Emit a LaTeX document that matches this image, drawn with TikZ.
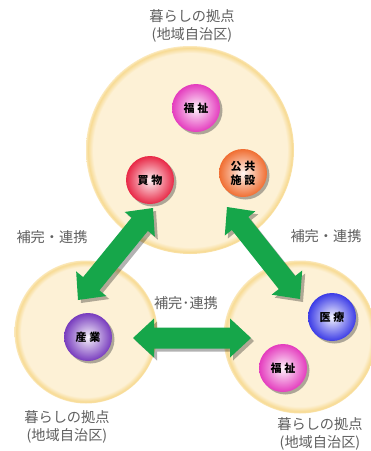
\documentclass[tikz,border=0pt]{standalone}
\usepackage{fontspec}
\newfontfamily\cjk{Noto Sans CJK JP}
\usetikzlibrary{calc,shadows}
\definecolor{cream}{RGB}{253,241,214}
\definecolor{rim}{RGB}{247,218,146}
\definecolor{rimout}{RGB}{251,232,186}
\definecolor{arrgreen}{RGB}{22,166,74}
\definecolor{lblgray}{RGB}{95,95,95}
\definecolor{cpink}{RGB}{228,60,190}
\definecolor{cred}{RGB}{232,40,70}
\definecolor{corange}{RGB}{240,110,50}
\definecolor{cpurple}{RGB}{120,60,190}
\definecolor{cblue}{RGB}{60,60,230}
\pgfdeclareradialshading{discL}{\pgfpoint{0bp}{0bp}}{color(0bp)=(cream); color(23.3bp)=(cream); color(24.6bp)=(rim); color(25bp)=(rimout); color(50bp)=(rimout)}
\pgfdeclareradialshading{discS}{\pgfpoint{0bp}{0bp}}{color(0bp)=(cream); color(22.7bp)=(cream); color(24.4bp)=(rim); color(25bp)=(rimout); color(50bp)=(rimout)}
\tikzset{
  bigdisc/.style={circle, inner sep=0pt, shading=discL, minimum size=#1},
  smalldisc/.style={circle, inner sep=0pt, shading=discS, minimum size=#1},
  ball/.style={circle, minimum size=48pt, inner sep=0pt, inner color=#1!6, outer color=#1,
    drop shadow={shadow xshift=2.5pt, shadow yshift=-2.5pt, opacity=.45, fill=black!70},
    font=\cjk\bfseries\fontsize{11}{14}\selectfont, align=center, text=black},
  lbl/.style={font=\cjk\fontsize{14.2}{18}\selectfont, text=lblgray, align=center},
  blockarrow/.style={fill=arrgreen,
    drop shadow={shadow xshift=3pt, shadow yshift=-3pt, opacity=.3, fill=black},
    to path={
      -- ($(\tikztostart)!21pt!(\tikztotarget)!19.5pt!90:(\tikztotarget)$)
      -- ($(\tikztostart)!21pt!(\tikztotarget)!10.5pt!90:(\tikztotarget)$)
      -- ($(\tikztotarget)!21pt!(\tikztostart)!10.5pt!-90:(\tikztostart)$)
      -- ($(\tikztotarget)!21pt!(\tikztostart)!19.5pt!-90:(\tikztostart)$)
      -- (\tikztotarget)
      -- ($(\tikztotarget)!21pt!(\tikztostart)!19.5pt!90:(\tikztostart)$)
      -- ($(\tikztotarget)!21pt!(\tikztostart)!10.5pt!90:(\tikztostart)$)
      -- ($(\tikztostart)!21pt!(\tikztotarget)!10.5pt!-90:(\tikztotarget)$)
      -- ($(\tikztostart)!21pt!(\tikztotarget)!19.5pt!-90:(\tikztotarget)$)
      -- cycle}}
}
\begin{document}
\begin{tikzpicture}[x=1pt,y=-1pt]
\useasboundingbox[fill=white] (0,0) rectangle (371,451);
% big discs
\node[bigdisc=208pt] (top) at (190,150) {};
\node[smalldisc=143pt] (left) at (86,332) {};
\node[smalldisc=153pt] (right) at (300,337) {};
% labels
\node[lbl] (toplbl) at (192,26) {暮らしの拠点\\(地域自治区)};
\node[lbl] (leftlbl) at (67,427) {暮らしの拠点\\(地域自治区)};
\node[lbl] (rightlbl) at (320,434) {暮らしの拠点\\(地域自治区)};
\node[lbl] (c1) at (52,237) {補完・連携};
\node[lbl] (c2) at (326,236) {補完・連携};
\node[lbl] (c3) at (186,303) {補完･連携};
% arrow end points
\coordinate (l1) at (78,300);
\coordinate (l2) at (153,208);
\coordinate (r1) at (227,207);
\coordinate (r2) at (300,299);
\coordinate (h1) at (133,338);
\coordinate (h2) at (251,338);
\path[blockarrow] (l1) to (l2);
\path[blockarrow] (r1) to (r2);
\path[blockarrow] (h1) to (h2);
% spheres
\node[ball=cpink] (fukushi1) at (196,108) {福\hspace{3pt}祉};
\node[ball=cred] (kaimono) at (150,180) {買\hspace{3pt}物};
\node[ball=corange] (kokyo) at (243,173) {公\hspace{3pt}共\\施\hspace{3pt}設};
\node[ball=cpurple] (sangyo) at (88,337) {産\hspace{3pt}業};
\node[ball=cblue] (iryo) at (332,317) {医\hspace{3pt}療};
\node[ball=cpink] (fukushi2) at (283,368) {福\hspace{3pt}祉};
\end{tikzpicture}
\end{document}
